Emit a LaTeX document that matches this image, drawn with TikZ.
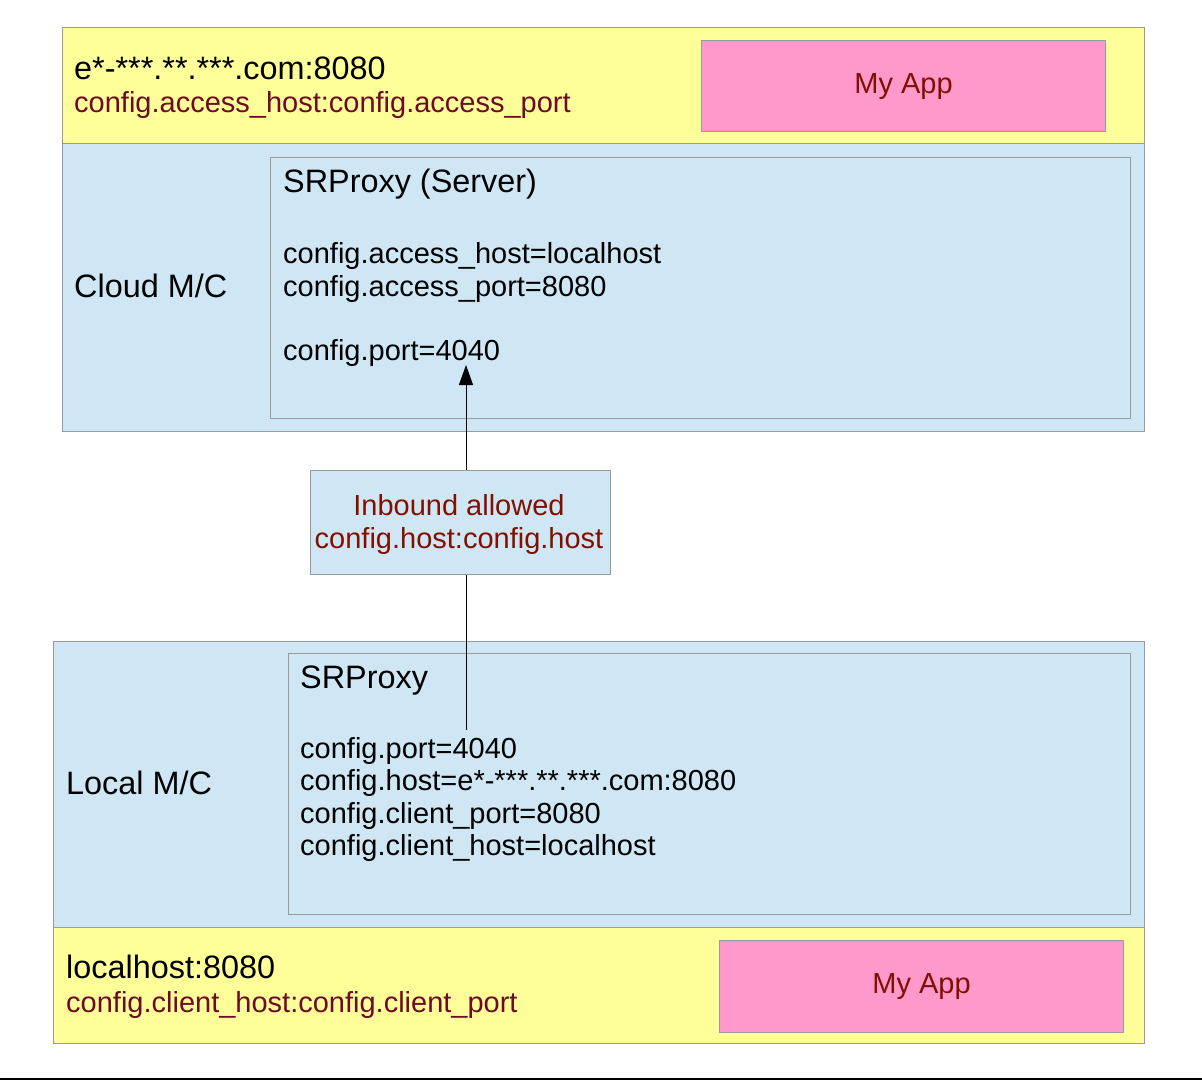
\documentclass[tikz,border=0pt]{standalone}
\usepackage{fontspec}
\setmainfont{Liberation Sans}
\usepackage{tikz}
\usetikzlibrary{arrows.meta,positioning}

\definecolor{hostyellow}{HTML}{FFFF99}
\definecolor{machblue}{HTML}{CFE7F5}
\definecolor{apppink}{HTML}{FF99CC}
\definecolor{boxgray}{HTML}{9A9A9A}
\definecolor{appred}{HTML}{801000}
\definecolor{cfgred}{HTML}{6E0A26}

\tikzset{
  area/.style={draw=boxgray,line width=1.2pt,inner sep=0pt,anchor=north west},
  txt/.style={anchor=base west,inner sep=0pt,font=\fontsize{29}{33}\selectfont},
  bigtxt/.style={txt,font=\fontsize{32.4}{36}\selectfont},
}

\begin{document}
\begin{tikzpicture}[x=1pt,y=-1pt]
 \useasboundingbox (0,0) rectangle (1202,1080);

 % cloud side
 \draw (62,27) node[area,fill=hostyellow,minimum width=1082pt,minimum height=116pt] (cloudhost) {};
 \draw (62,143) node[area,fill=machblue,minimum width=1082pt,minimum height=288pt] (cloud) {};
 \draw (701,40) node[area,fill=apppink,minimum width=404pt,minimum height=91pt] (cloudapp) {};
 \draw (270,157) node[area,fill=machblue,minimum width=860pt,minimum height=261pt] (server) {};

 \draw (74,79) node[bigtxt] (accessaddr) {e*-***.**.***.com:8080};
 \draw (74,112) node[txt,text=cfgred] (accesskey) {config.access\_host:config.access\_port};
 \draw (cloudapp.center) node[font=\fontsize{29}{33}\selectfont,text=appred] (cloudappname) {My App};
 \draw (74,297) node[bigtxt] (cloudmc) {Cloud M/C};
 \draw (283,192) node[bigtxt] (servertitle) {SRProxy (Server)};
 \draw (283,263) node[txt] (serverhost) {config.access\_host=localhost};
 \draw (283,296) node[txt] (serveraport) {config.access\_port=8080};
 \draw (283,360) node[txt] (serverport) {config.port=4040};

 % firewall
 \draw (310,470) node[area,fill=machblue,minimum width=300pt,minimum height=104pt] (inbound) {};
 \draw (459,515) node[txt,anchor=base,text=appred] (inbound1) {Inbound allowed};
 \draw (459,548) node[txt,anchor=base,text=appred] (inbound2) {config.host:config.host};

 % local side
 \draw (53,641) node[area,fill=machblue,minimum width=1091pt,minimum height=286pt] (local) {};
 \draw (53,927) node[area,fill=hostyellow,minimum width=1091pt,minimum height=116pt] (localhost) {};
 \draw (288,653) node[area,fill=machblue,minimum width=842pt,minimum height=261pt] (client) {};
 \draw (719,940) node[area,fill=apppink,minimum width=404pt,minimum height=92pt] (localapp) {};

 \draw (66,794) node[bigtxt] (localmc) {Local M/C};
 \draw (300,688) node[bigtxt] (clienttitle) {SRProxy};
 \draw (300,758) node[txt] (clientport) {config.port=4040};
 \draw (300,790) node[txt] (clienthost) {config.host=e*-***.**.***.com:8080};
 \draw (300,823) node[txt] (clientcport) {config.client\_port=8080};
 \draw (300,855) node[txt] (clientchost) {config.client\_host=localhost};
 \draw (66,978) node[bigtxt] (localaddr) {localhost:8080};
 \draw (66,1012) node[txt,text=cfgred] (localkey) {config.client\_host:config.client\_port};
 \draw (localapp.center) node[font=\fontsize{29}{33}\selectfont,text=appred] (localappname) {My App};

 \coordinate (tunnelstart) at (466,730);
 \coordinate (tunnelend) at (466,365);

 \path[-,line width=1pt] (tunnelstart) edge (tunnelstart |- inbound.south);
 \path[-{Triangle[length=20pt,width=14pt]},line width=1pt] (tunnelstart |- inbound.north) edge (tunnelend);

 \draw[line width=2.5pt] (0,1078.8) -- (1202,1078.8);
\end{tikzpicture}
\end{document}
